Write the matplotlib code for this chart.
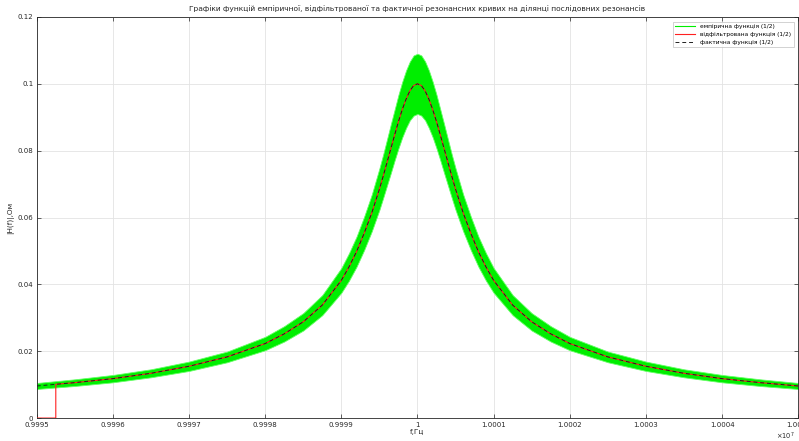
import matplotlib
matplotlib.use("Agg")
import matplotlib.pyplot as plt
from matplotlib.ticker import FuncFormatter, MultipleLocator

# ---- data ----
f0 = 1e7  # Hz
offsets_hz = [-5000, -4500, -4000, -3500, -3000, -2500, -2000, -1750, -1500, -1250,
              -1000, -900, -800, -700, -600, -500, -450, -400, -350, -300, -250,
              -200, -150, -100, -50, 0, 50, 100, 150, 200, 250, 300, 350, 400,
              450, 500, 600, 700, 800, 900, 1000, 1250, 1500, 1750, 2000, 2500,
              3000, 3500, 4000, 4500, 5000]
actual = [0.0096, 0.0106, 0.0118, 0.0134, 0.0155, 0.0183, 0.0223, 0.0252, 0.0288, 0.0338,
          0.0412, 0.0452, 0.0498, 0.0553, 0.0614, 0.0685, 0.0724, 0.0765, 0.0806, 0.0847,
          0.0887, 0.0923, 0.0954, 0.0979, 0.0995, 0.1000, 0.0995, 0.0979, 0.0954, 0.0923,
          0.0887, 0.0847, 0.0806, 0.0765, 0.0724, 0.0685, 0.0614, 0.0553, 0.0498, 0.0452,
          0.0412, 0.0338, 0.0288, 0.0252, 0.0223, 0.0183, 0.0155, 0.0134, 0.0118, 0.0106,
          0.0096]
band_half = [0.0009, 0.0010, 0.0011, 0.0012, 0.0014, 0.0016, 0.0020, 0.0023, 0.0026, 0.0030,
             0.0037, 0.0041, 0.0045, 0.0050, 0.0055, 0.0062, 0.0065, 0.0069, 0.0073, 0.0076,
             0.0080, 0.0083, 0.0086, 0.0088, 0.0090, 0.0090, 0.0090, 0.0088, 0.0086, 0.0083,
             0.0080, 0.0076, 0.0073, 0.0069, 0.0065, 0.0062, 0.0055, 0.0050, 0.0045, 0.0041,
             0.0037, 0.0030, 0.0026, 0.0023, 0.0020, 0.0016, 0.0014, 0.0012, 0.0011, 0.0010,
             0.0009]
# filtered function: zero until the filter settles, then follows the curve
filt_start_hz = -4750
filt_start_val = 0.0101

title = ("Графіки функцій емпіричної, відфільтрованої та фактичної резонансних кривих "
         "на ділянці послідовних резонансів")
legend_labels = ["емпірична функція (1/2)", "відфільтрована функція (1/2)",
                 "фактична функція (1/2)"]
xlabel = "f,Гц"
ylabel = "|H(f)|,Ом"

# ---- build ----
freq = [f0 + d for d in offsets_hz]
upper = [a + b for a, b in zip(actual, band_half)]
lower = [a - b for a, b in zip(actual, band_half)]

filt_f = [f0 + offsets_hz[0], f0 + filt_start_hz, f0 + filt_start_hz]
filt_v = [0.0, 0.0, filt_start_val]
for d, v in zip(offsets_hz, actual):
    if d > filt_start_hz:
        filt_f.append(f0 + d)
        filt_v.append(v)

plt.rcParams['font.family'] = ['DejaVu Sans']
fig = plt.figure(figsize=(7.99, 4.41), dpi=100)
ax = fig.add_axes([0.046, 0.052, 0.953, 0.9095])

ax.fill_between(freq, lower, upper, color='#00ee00', linewidth=0.6,
                edgecolor='#66ff66', zorder=2)
h1, = ax.plot([], [], color='#00ee00', lw=0.8, label=legend_labels[0])
h2, = ax.plot(filt_f, filt_v, color='#ff2020', lw=0.8, label=legend_labels[1], zorder=3)
h3, = ax.plot(freq, actual, color='#202020', lw=0.7, ls=(0, (4, 3)),
              label=legend_labels[2], zorder=4)

ax.set_xlim(f0 - 5000, f0 + 5000)
ax.set_ylim(0, 0.12)
ax.xaxis.set_major_locator(MultipleLocator(1000))
ax.yaxis.set_major_locator(MultipleLocator(0.02))
ax.xaxis.set_major_formatter(FuncFormatter(lambda v, p: f"{v / 1e7:.4f}".rstrip('0').rstrip('.')))
ax.yaxis.set_major_formatter(FuncFormatter(lambda v, p: f"{v:.2f}".rstrip('0').rstrip('.') if v else "0"))
ax.tick_params(direction='in', length=3, width=0.5, labelsize=5.0, colors='#262626',
               top=True, right=True, pad=2.5)
ax.grid(True, color='#e3e3e3', lw=0.6)
ax.set_axisbelow(True)
for s in ax.spines.values():
    s.set_linewidth(0.6)
    s.set_color('#262626')

ax.set_title(title, fontsize=5.4, color='#262626', pad=4)
ax.set_xlabel(xlabel, fontsize=5.3, color='#262626', labelpad=1)
ax.set_ylabel(ylabel, fontsize=5.3, color='#262626')
ax.yaxis.set_label_coords(-0.03, 0.5)
ax.text(0.995, -0.032, r"$\times10^7$", transform=ax.transAxes, fontsize=4.8,
        ha='right', va='top', color='#262626')

leg = ax.legend(handles=[h1, h2, h3], loc='upper right', fontsize=4.2,
                frameon=True, fancybox=False, edgecolor='#b0b0b0',
                borderaxespad=0.8, handlelength=3.5, labelspacing=0.5)
leg.get_frame().set_linewidth(0.5)

fig.savefig("out.png", dpi=100, facecolor='white')
